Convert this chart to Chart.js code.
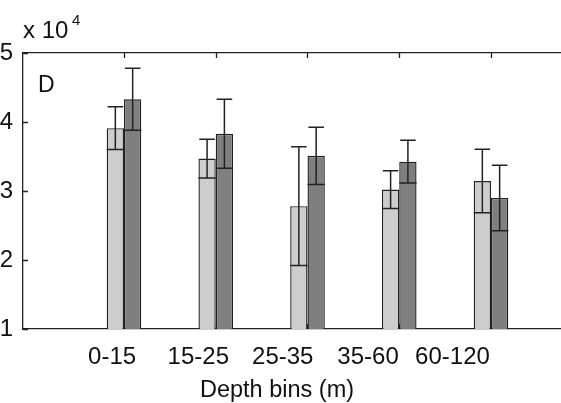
<!DOCTYPE html>
<html>
<head>
<meta charset="utf-8">
<script src="https://cdn.jsdelivr.net/npm/chart.js@4"></script>
<style>
  body { margin: 0; background: #fff; }
  #wrap { width: 561px; height: 403px; }
</style>
</head>
<body>
<div id="wrap"><canvas id="grafico"></canvas></div>
<script>
// values (x 10^4 on the axis)
const categories = ['0-15', '15-25', '25-35', '35-60', '60-120'];
const lightMeans = [39100, 34700, 27800, 30200, 31450];
const lightErr   = [3100, 2800, 8600, 2750, 4600];
const darkMeans  = [43300, 38300, 35100, 34250, 29000];
const darkErr    = [4500, 5000, 4150, 3100, 4750];
const yTicks = [10000, 20000, 30000, 40000, 50000];

// where the original put its bin labels (slightly left of the bars)
const labelPos = [0.87, 1.81, 2.73, 3.66, 4.58];

const font = "'Liberation Sans', Arial, sans-serif";
const ink = '#222';

const errs = [lightErr, darkErr];

const extras = {
    id: 'extras',
    beforeDatasetsDraw(chart) {
        const c = chart.ctx, a = chart.chartArea;
        const x = chart.scales.x, y = chart.scales.y;
        c.save();
        c.strokeStyle = ink;
        c.lineWidth = 1.3;
        c.beginPath();
        // inward ticks
        yTicks.forEach(v => {
            const py = Math.round(y.getPixelForValue(v)) + 0.5;
            c.moveTo(a.left, py); c.lineTo(a.left + 5, py);
        });
        categories.forEach((_, i) => {
            const px = Math.round(x.getPixelForValue(i + 1)) + 0.5;
            c.moveTo(px, a.top); c.lineTo(px, a.top + 5);
            c.moveTo(px, a.bottom); c.lineTo(px, a.bottom - 5);
        });
        c.stroke();
        c.restore();
    },
    afterDatasetsDraw(chart) {
        const c = chart.ctx, y = chart.scales.y;
        c.save();
        c.strokeStyle = ink;
        c.lineWidth = 1.5;
        chart.data.datasets.forEach((ds, di) => {
            chart.getDatasetMeta(di).data.forEach((el, j) => {
                const v = ds.data[j].y, e = errs[di][j];
                const top = y.getPixelForValue(v + e);
                const low = y.getPixelForValue(v - e);
                const w = el.width;
                c.beginPath();
                c.moveTo(el.x, top); c.lineTo(el.x, low);
                c.moveTo(el.x - w * 0.45, top); c.lineTo(el.x + w * 0.45, top);
                c.moveTo(el.x - w / 2, low); c.lineTo(el.x + w / 2, low);
                c.stroke();
            });
        });
        // texts
        c.fillStyle = '#111';
        c.textBaseline = 'alphabetic';
        c.textAlign = 'left';
        c.font = '24px ' + font;
        c.fillText('x 10', 23, 38);
        c.font = '15px ' + font;
        c.fillText('4', 72, 25);
        c.font = '23px ' + font;
        c.fillText('D', 38, 92);
        c.textAlign = 'center';
        c.font = '23.5px ' + font;
        c.fillText('Depth bins (m)', 277, 397);
        c.restore();
    }
};

const ctx = document.getElementById('grafico');

new Chart(ctx, {
    type: 'bar',
    data: {
        datasets: [{
            data: lightMeans.map((v, i) => ({ x: i + 1, y: v })),
            backgroundColor: '#cdcdcd',
            borderColor: ink,
            borderWidth: 1.4,
            categoryPercentage: 0.41,
            barPercentage: 1
        }, {
            data: darkMeans.map((v, i) => ({ x: i + 1, y: v })),
            backgroundColor: '#7f7f7f',
            borderColor: ink,
            borderWidth: 1.4,
            categoryPercentage: 0.41,
            barPercentage: 1
        }]
    },
    options: {
        responsive: true,
        maintainAspectRatio: false,
        animation: false,
        layout: { padding: 0 },
        plugins: { legend: { display: false }, tooltip: { enabled: false } },
        scales: {
            x: {
                type: 'linear',
                position: 'bottom',
                offset: false,
                min: -0.1008,
                max: 5.763,
                grid: { display: false, drawTicks: false, offset: false },
                border: { display: true, color: ink, width: 1.3 },
                afterBuildTicks: s => { s.ticks = labelPos.map(v => ({ value: v })); },
                afterFit: s => { s.height = 74; },
                ticks: {
                    autoSkip: false,
                    maxRotation: 0,
                    padding: 14,
                    color: '#111',
                    font: { family: font, size: 24 },
                    callback: (v, i) => categories[i]
                }
            },
            x2: {
                type: 'linear',
                position: 'top',
                offset: false,
                min: -0.1008,
                max: 5.763,
                grid: { display: false, drawTicks: false },
                border: { display: true, color: ink, width: 1.3 },
                ticks: { display: false },
                afterFit: s => { s.height = 53; }
            },
            y: {
                min: 10000,
                max: 50000,
                grid: { display: false, drawTicks: false },
                border: { display: true, color: ink, width: 1.3 },
                afterBuildTicks: s => { s.ticks = yTicks.map(v => ({ value: v })); },
                afterFit: s => { s.width = 23; },
                ticks: {
                    padding: 10,
                    color: '#111',
                    font: { family: font, size: 24 },
                    callback: v => v / 10000
                }
            }
        }
    },
    plugins: [extras]
});
</script>
</body>
</html>
